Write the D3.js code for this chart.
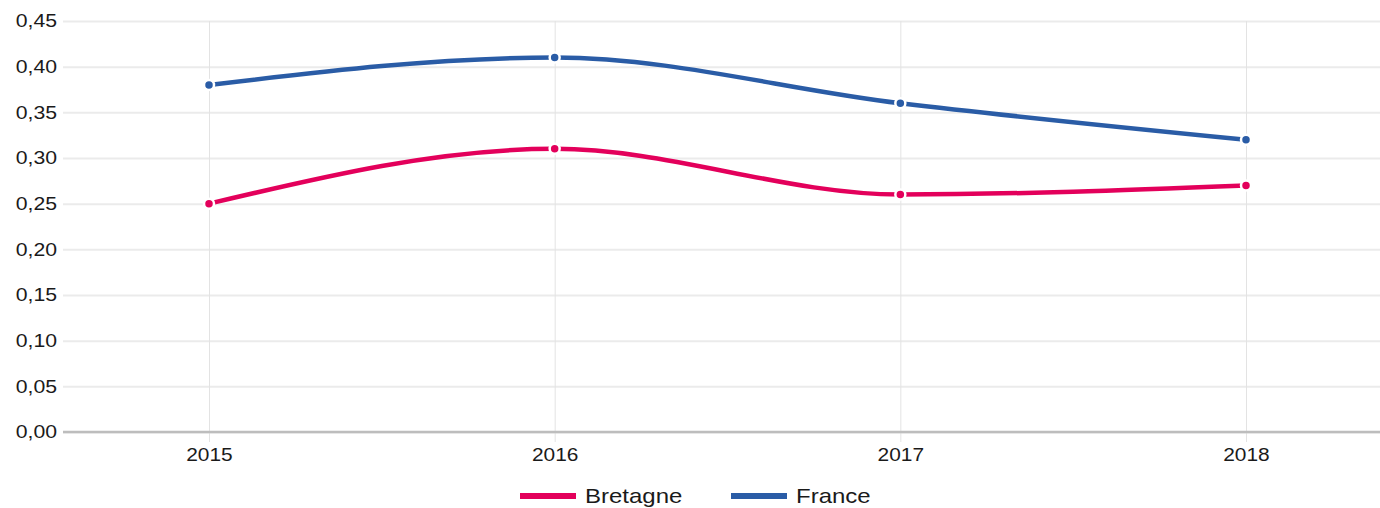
<!DOCTYPE html>
<html>
<head>
<meta charset="utf-8">
<script src="https://cdn.jsdelivr.net/npm/d3@7"></script>
<style>
  body { margin: 0; background: #fff; }
  text { font-family: "Liberation Sans", Arial, sans-serif; fill: #1a1a1a; }
</style>
</head>
<body>
<svg width="1380" height="508"></svg>
<script>
const years = ['2015', '2016', '2017', '2018'];
const bretagne = [0.25, 0.31, 0.26, 0.27];
const france = [0.38, 0.41, 0.36, 0.32];
const yTicks = [0, 0.05, 0.1, 0.15, 0.2, 0.25, 0.3, 0.35, 0.4, 0.45];

const series = [
  { name: 'Bretagne', values: bretagne, color: '#e3005b' },
  { name: 'France', values: france, color: '#2a5ca6' }
];

const svg = d3.select('svg');
const plotLeft = 63, plotRight = 1380, plotTop = 21, plotBottom = 432;

const x = d3.scalePoint().domain(years).range([209, 1246]);
const y = d3.scaleLinear().domain([0, 0.45]).range([plotBottom, plotTop]);
const fmt = d => d3.format('.2f')(d).replace('.', ',');

// horizontal grid + labels
const yAxis = svg.append('g')
  .attr('transform', `translate(${plotLeft},0)`)
  .call(d3.axisLeft(y).tickValues(yTicks).tickFormat(fmt).tickSize(-(plotRight - plotLeft)));
yAxis.select('.domain').remove();
yAxis.selectAll('.tick line').attr('stroke', '#ebebeb').attr('stroke-width', 2);
yAxis.selectAll('.tick text')
  .attr('font-size', 18)
  .attr('x', 0)
  .attr('transform', 'translate(-6,0) scale(1.18,1)');

// vertical grid
const xAxis = svg.append('g')
  .attr('transform', `translate(0,${plotBottom + 10})`)
  .call(d3.axisBottom(x).tickSize(-(plotBottom + 10 - plotTop)));
xAxis.select('.domain').remove();
xAxis.selectAll('.tick line').attr('stroke', '#e3e3e3').attr('stroke-width', 1);
xAxis.selectAll('.tick text')
  .attr('font-size', 19)
  .attr('y', 0)
  .attr('dy', '0.71em')
  .attr('transform', 'translate(0,6) scale(1.1,1)');

// baseline
svg.append('line')
  .attr('x1', plotLeft).attr('x2', plotRight)
  .attr('y1', y(0)).attr('y2', y(0))
  .attr('stroke', '#bdbdbd').attr('stroke-width', 2.5);

const line = d3.line()
  .x((d, i) => x(years[i]))
  .y(d => y(d))
  .curve(d3.curveMonotoneX);

series.forEach(s => {
  svg.append('path')
    .attr('d', line(s.values))
    .attr('fill', 'none')
    .attr('stroke', s.color)
    .attr('stroke-width', 4.5);
  svg.selectAll(null).data(s.values).enter().append('circle')
    .attr('cx', (d, i) => x(years[i]))
    .attr('cy', d => y(d))
    .attr('r', 5)
    .attr('fill', s.color)
    .attr('stroke', '#fff')
    .attr('stroke-width', 2.5);
});

// legend
const legend = svg.append('g').attr('transform', 'translate(520,496)');
const lx = [0, 211];
series.forEach((s, i) => {
  const g = legend.append('g').attr('transform', `translate(${lx[i]},0)`);
  g.append('line').attr('x1', 0).attr('x2', 56).attr('y1', 0).attr('y2', 0)
    .attr('stroke', s.color).attr('stroke-width', 6);
  g.append('text').attr('x', 0).attr('y', 0).attr('dy', '0.36em')
    .attr('transform', 'translate(65,0) scale(1.2,1)')
    .attr('font-size', 20).text(s.name);
});
</script>
</body>
</html>
